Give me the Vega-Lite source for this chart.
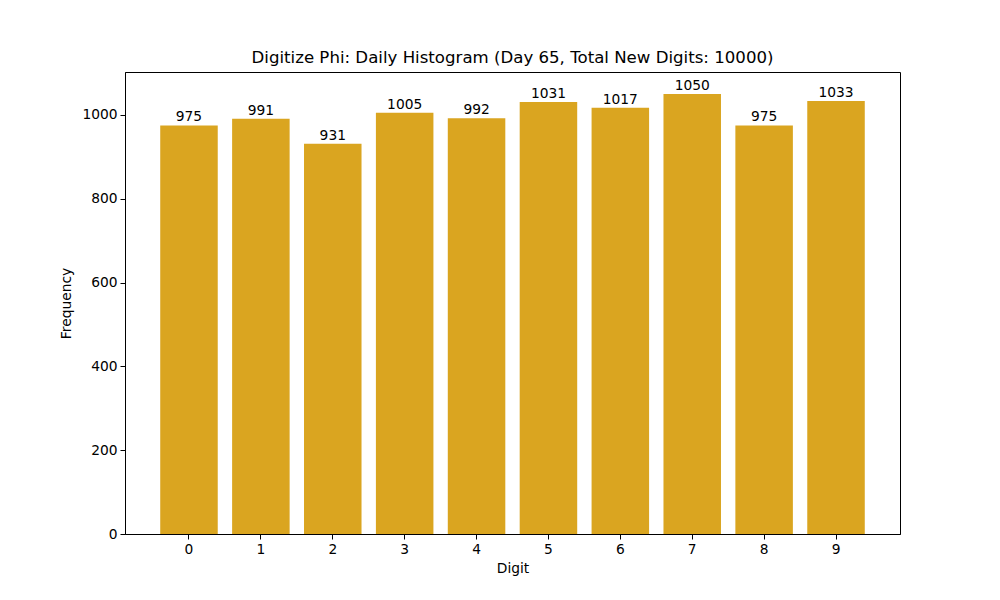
{
  "$schema": "https://vega.github.io/schema/vega-lite/v6.json",
  "autosize": "none",
  "width": 775,
  "height": 462,
  "padding": {"left": 125, "top": 72, "right": 100, "bottom": 66},
  "background": "white",
  "title": {
    "text": "Digitize Phi: Daily Histogram (Day 65, Total New Digits: 10000)",
    "font": "DejaVu Sans",
    "fontSize": 16.6,
    "fontWeight": "normal",
    "color": "black",
    "offset": 5
  },
  "config": {
    "view": {"stroke": "black", "strokeWidth": 1},
    "axis": {
      "labelFont": "DejaVu Sans",
      "titleFont": "DejaVu Sans",
      "labelFontSize": 13.8,
      "titleFontSize": 13.8,
      "titleFontWeight": "normal",
      "labelColor": "black",
      "titleColor": "black",
      "domainColor": "black",
      "tickColor": "black",
      "tickSize": 5,
      "grid": false,
      "labelPadding": 3
    }
  },
  "data": {
    "values": [
      {"Digit": "0", "Frequency": 975},
      {"Digit": "1", "Frequency": 991},
      {"Digit": "2", "Frequency": 931},
      {"Digit": "3", "Frequency": 1005},
      {"Digit": "4", "Frequency": 992},
      {"Digit": "5", "Frequency": 1031},
      {"Digit": "6", "Frequency": 1017},
      {"Digit": "7", "Frequency": 1050},
      {"Digit": "8", "Frequency": 975},
      {"Digit": "9", "Frequency": 1033}
    ]
  },
  "encoding": {
    "x": {
      "field": "Digit",
      "type": "ordinal",
      "scale": {"paddingInner": 0.2, "paddingOuter": 0.49},
      "axis": {"labelAngle": 0, "title": "Digit", "titlePadding": 6}
    },
    "y": {
      "field": "Frequency",
      "type": "quantitative",
      "scale": {"domain": [0, 1102.5], "nice": false},
      "axis": {"values": [0, 200, 400, 600, 800, 1000], "format": "d", "title": "Frequency", "titlePadding": 8}
    }
  },
  "layer": [
    {"mark": {"type": "bar", "color": "#DAA520"}},
    {
      "mark": {"type": "text", "baseline": "bottom", "dy": -1, "font": "DejaVu Sans", "fontSize": 13.8, "color": "black"},
      "encoding": {"text": {"field": "Frequency", "type": "quantitative", "format": "d"}}
    }
  ]
}
